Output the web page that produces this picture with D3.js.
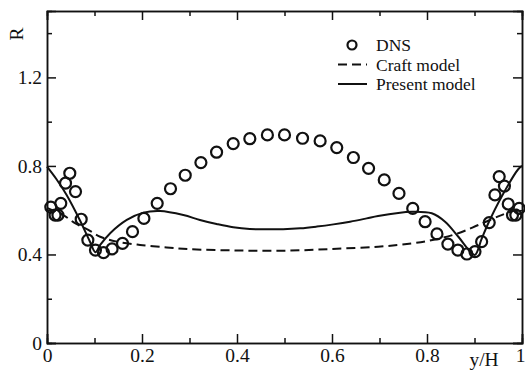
<!DOCTYPE html>
<meta charset="utf-8">
<style>
body { margin: 0; background: white; }
svg { display: block; font-family: "Liberation Serif", "Times New Roman", serif; }
.axis path, .axis line { fill: none; stroke: #111; stroke-width: 1.5px; }
.axis text { font-family: "Liberation Serif", serif; font-size: 19.5px; fill: #111; }
</style>
<script src="https://d3js.org/d3.v7.min.js"></script>
<body>
<script>

// data
var dnsPoints = [
  [0.008,0.614],[0.017,0.578],[0.023,0.578],[0.029,0.631],[0.039,0.722],[0.048,0.767],
  [0.060,0.684],[0.072,0.559],[0.086,0.465],[0.102,0.420],[0.119,0.408],[0.137,0.425],
  [0.159,0.450],[0.180,0.503],[0.204,0.563],[0.232,0.631],[0.260,0.697],[0.291,0.758],
  [0.324,0.815],[0.357,0.862],[0.392,0.901],[0.427,0.923],[0.464,0.940],[0.500,0.940],
  [0.538,0.925],[0.575,0.913],[0.610,0.883],[0.645,0.838],[0.677,0.789],[0.710,0.737],
  [0.741,0.676],[0.770,0.608],[0.796,0.548],[0.821,0.493],[0.844,0.447],[0.865,0.420],
  [0.884,0.402],[0.901,0.413],[0.915,0.458],[0.931,0.544],[0.943,0.669],[0.952,0.752],
  [0.963,0.709],[0.971,0.628],[0.980,0.578],[0.987,0.578],[0.994,0.608]
];
var craftModel = [
  [0,0.61],[0.034,0.578],[0.06,0.54],[0.087,0.511],[0.112,0.48],[0.147,0.458],
  [0.196,0.443],[0.252,0.432],[0.3,0.424],[0.4,0.418],[0.5,0.417],[0.6,0.425],
  [0.697,0.435],[0.768,0.45],[0.817,0.468],[0.866,0.496],[0.908,0.533],[0.957,0.578],[1,0.61]
];
var presentModel = [
  [0,0.797],[0.02,0.74],[0.041,0.67],[0.069,0.556],[0.09,0.46],[0.102,0.41],
  [0.112,0.443],[0.133,0.496],[0.168,0.556],[0.203,0.589],[0.238,0.596],[0.287,0.578],
  [0.322,0.556],[0.357,0.538],[0.392,0.523],[0.427,0.515],[0.463,0.514],[0.497,0.514],
  [0.533,0.518],[0.568,0.526],[0.603,0.536],[0.638,0.548],[0.673,0.563],[0.697,0.574],
  [0.768,0.593],[0.810,0.586],[0.838,0.548],[0.866,0.480],[0.891,0.413],[0.901,0.398],
  [0.915,0.47],[0.929,0.541],[0.957,0.661],[0.992,0.785],[1,0.80]
];
var xMajor = [0, 0.2, 0.4, 0.6, 0.8, 1];
var xMinor = [0.1, 0.3, 0.5, 0.7, 0.9];
var yMajor = [0, 0.4, 0.8, 1.2];
var yMinor = [0.2, 0.6, 1.0, 1.4];
var legendItems = ["DNS", "Craft model", "Present model"];

var margin = {top: 11, right: 3, bottom: 28, left: 47},
    width = 525 - margin.left - margin.right,
    height = 371 - margin.top - margin.bottom;

var svg = d3.select("body").append("svg")
    .attr("width", 525)
    .attr("height", 371)
  .append("g")
    .attr("transform", "translate(" + margin.left + "," + margin.top + ")");

var x = d3.scaleLinear().domain([0, 1]).range([0, width]);
var y = d3.scaleLinear().domain([0, 1.5]).range([height, 0]);

var fmt = function(d) { return d === 0 ? "0" : d === 1 ? "1" : d3.format(".1f")(d); };

// bottom axis
var xAxisG = svg.append("g").attr("class", "axis")
    .attr("transform", "translate(0," + height + ")")
    .call(d3.axisBottom(x).tickValues(xMajor).tickSize(-9).tickPadding(5).tickFormat(fmt));
// keep the "1" at the right edge inside the window
xAxisG.selectAll(".tick text").filter(function(d) { return d === 1; })
    .attr("text-anchor", "end").attr("x", 3);
svg.append("g").attr("class", "axis")
    .attr("transform", "translate(0," + height + ")")
    .call(d3.axisBottom(x).tickValues(xMinor).tickSize(-5).tickFormat(""));
// top axis
svg.append("g").attr("class", "axis")
    .call(d3.axisTop(x).tickValues(xMajor).tickSize(-9).tickFormat(""));
svg.append("g").attr("class", "axis")
    .call(d3.axisTop(x).tickValues(xMinor).tickSize(-5).tickFormat(""));
// left axis
svg.append("g").attr("class", "axis")
    .call(d3.axisLeft(y).tickValues(yMajor).tickSize(-9).tickPadding(5).tickFormat(fmt));
svg.append("g").attr("class", "axis")
    .call(d3.axisLeft(y).tickValues(yMinor).tickSize(-5).tickFormat(""));
// right axis
svg.append("g").attr("class", "axis")
    .attr("transform", "translate(" + width + ",0)")
    .call(d3.axisRight(y).tickValues(yMajor).tickSize(-9).tickFormat(""));
svg.append("g").attr("class", "axis")
    .attr("transform", "translate(" + width + ",0)")
    .call(d3.axisRight(y).tickValues(yMinor).tickSize(-5).tickFormat(""));

svg.selectAll(".axis .domain").attr("stroke-width", 1.6);

// axis titles
svg.append("text")
    .attr("transform", "translate(-31,23) rotate(-90)")
    .attr("text-anchor", "middle")
    .attr("dy", "0.35em")
    .style("font-size", "19.5px")
    .attr("fill", "#111")
    .text("R");
svg.append("text")
    .attr("x", 437)
    .attr("y", 355)
    .attr("text-anchor", "middle")
    .style("font-size", "19.5px")
    .attr("fill", "#111")
    .text("y/H");

var line = d3.line()
    .x(function(d) { return x(d[0]); })
    .y(function(d) { return y(d[1]); })
    .curve(d3.curveCatmullRom);

svg.append("path")
    .datum(craftModel)
    .attr("d", line)
    .attr("fill", "none")
    .attr("stroke", "#111")
    .attr("stroke-width", 2)
    .attr("stroke-dasharray", "9,5");

svg.append("path")
    .datum(presentModel)
    .attr("d", line)
    .attr("fill", "none")
    .attr("stroke", "#111")
    .attr("stroke-width", 2);

svg.selectAll(".dot")
    .data(dnsPoints)
  .enter().append("circle")
    .attr("class", "dot")
    .attr("r", 5.5)
    .attr("cx", function(d) { return x(d[0]); })
    .attr("cy", function(d) { return y(d[1]); })
    .attr("fill", "none")
    .attr("stroke", "#111")
    .attr("stroke-width", 2.2);

// legend
var legend = svg.selectAll(".legend")
    .data(legendItems)
  .enter().append("g")
    .attr("class", "legend")
    .attr("transform", function(d, i) { return "translate(291," + (34 + i * 19.5) + ")"; });

legend.append("text")
    .attr("x", 38)
    .attr("y", 6)
    .style("font-size", "17.5px")
    .attr("fill", "#111")
    .text(function(d) { return d; });

legend.filter(function(d, i) { return i === 0; })
    .append("circle")
    .attr("cx", 14).attr("cy", 0).attr("r", 4.5)
    .attr("fill", "none").attr("stroke", "#111").attr("stroke-width", 2.2);

legend.filter(function(d, i) { return i > 0; })
    .append("line")
    .attr("x1", 0).attr("x2", 29).attr("y1", 0).attr("y2", 0)
    .attr("stroke", "#111").attr("stroke-width", 2)
    .attr("stroke-dasharray", function(d, i) { return i === 0 ? "9,5" : null; });

</script>
